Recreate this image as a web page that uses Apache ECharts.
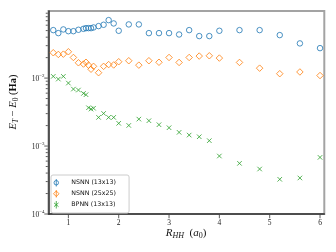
<!DOCTYPE html>
<html><head><meta charset="utf-8">
<script src="https://cdn.jsdelivr.net/npm/echarts@6/dist/echarts.min.js"></script>
<style>html,body{margin:0;padding:0;background:#fff}#c{width:336px;height:252px}</style>
</head><body><div id="c"></div>
<script>
// ---- data ----
const rHH = [0.7,0.8,0.9,1.0,1.1,1.2,1.3,1.35,1.4,1.45,1.5,1.6,1.7,1.8,1.9,2.0,2.2,2.4,2.6,2.8,3.0,3.2,3.4,3.6,3.8,4.0,4.4,4.8,5.2,5.6,6.0];
const nsnn13 = [0.0508,0.0459,0.052,0.049,0.049,0.0514,0.0531,0.0543,0.0543,0.0543,0.0556,0.0582,0.0609,0.0713,0.0637,0.0497,0.0616,0.0616,0.0459,0.0459,0.0459,0.0438,0.0508,0.0415,0.0415,0.0497,0.0508,0.0508,0.0429,0.0324,0.0276];
const nsnn25 = [0.0236,0.0223,0.0225,0.0244,0.0201,0.0168,0.0161,0.0171,0.0155,0.0135,0.0149,0.0120,0.0149,0.0158,0.0156,0.0174,0.0180,0.0155,0.0180,0.0171,0.0201,0.0170,0.0201,0.0211,0.0213,0.0197,0.0170,0.0140,0.0116,0.0123,0.0109];
const bpnn13 = [0.0106,0.00967,0.0106,0.00844,0.00689,0.00667,0.00595,0.0057,0.00366,0.0035,0.0036,0.00264,0.00302,0.00264,0.00264,0.00216,0.00201,0.00249,0.00236,0.00206,0.00186,0.00159,0.00145,0.00137,0.0012,0.000713,0.000556,0.000459,0.000324,0.000339,0.000681];
const seriesNames = ['NSNN (13x13)','NSNN (25x25)','BPNN (13x13)'];
const xTicks = [1,2,3,4,5,6];
const yTickExps = [-4,-3,-2];

// ---- style ----
const colors = ['#1f77b4','#ff7f0e','#2ca02c'];
const X_MIN = 0.605, X_MAX = 6.085, Y_MIN = 1e-4, Y_MAX = 0.0971;
const AX = '#333';
const SERIF = '"Liberation Serif", "DejaVu Serif", serif';

const yMinor = [];
for (let e = -4; e < -1; e++) for (let m = 2; m <= 9; m++) { const v = m * Math.pow(10, e); if (v <= Y_MAX) yMinor.push(v); }
const yTickData = yTickExps.map(e => [X_MIN, Math.pow(10, e), 3.5]).concat(yMinor.map(v => [X_MIN, v, 2]));
const xTickData = xTicks.map(t => [t, Y_MIN, 3.5]);

const icons = [
  'path://M5,0L5,10M8,5A3,3,0,1,1,2,5A3,3,0,1,1,8,5Z',
  'path://M5,0L5,10M5,1.3L8.7,5L5,8.7L1.3,5Z',
  'path://M5,0L5,10M2,2.5L8,7.5M8,2.5L2,7.5'
];
const symbols = ['circle', 'diamond', 'path://M0,0L10,10M10,0L0,10'];
const sizes = [5.5, 6.5, 4.5];

const scatter = [nsnn13, nsnn25, bpnn13].map((arr, i) => ({
  type: 'scatter', name: seriesNames[i],
  data: rHH.map((x, j) => [x, arr[j]]),
  symbol: symbols[i], symbolSize: sizes[i],
  itemStyle: { color: 'rgba(255,255,255,0)', borderColor: colors[i], borderWidth: 1 },
  emphasis: { disabled: true }, z: 3
}));

const chart = echarts.init(document.getElementById('c'), null, { renderer: 'canvas' });
chart.setOption({
  animation: false,
  backgroundColor: '#fff',
  grid: { left: 48.5, right: 11.7, top: 11, bottom: 38, show: true, borderColor: '#a3a3a3', borderWidth: 2, backgroundColor: 'transparent' },
  xAxis: {
    type: 'value', min: X_MIN, max: X_MAX,
    axisLine: { show: true, onZero: false, lineStyle: { color: AX, width: 1.5 } },
    axisTick: { show: false }, splitLine: { show: false },
    axisLabel: {
      margin: 5, color: '#222', fontFamily: SERIF, fontSize: 7.5,
      formatter: v => xTicks.some(t => Math.abs(t - v) < 1e-9) ? String(Math.round(v)) : ''
    }
  },
  yAxis: {
    type: 'log', logBase: 10, min: Y_MIN, max: Y_MAX,
    axisLine: { show: true, lineStyle: { color: AX, width: 1.5 } },
    axisTick: { show: false }, splitLine: { show: false },
    axisLabel: {
      margin: 4, color: '#222',
      formatter: v => {
        const e = Math.log10(v), r = Math.round(e);
        if (Math.abs(e - r) > 1e-6 || !yTickExps.includes(r)) return '';
        return '{b|10}{s|' + (r < 0 ? '\u2212' : '') + Math.abs(r) + '}';
      },
      rich: {
        b: { fontFamily: SERIF, fontSize: 7.5, color: '#222', verticalAlign: 'bottom', lineHeight: 10 },
        s: { fontFamily: SERIF, fontSize: 5, color: '#222', verticalAlign: 'top', lineHeight: 6 }
      }
    }
  },
  legend: {
    orient: 'vertical', left: 51, top: 175,
    padding: [3.5, 13, 4, 2], itemGap: 2.5, itemWidth: 16, itemHeight: 7.5,
    backgroundColor: 'rgba(255,255,255,0.8)', borderColor: '#cccccc', borderWidth: 1, borderRadius: 2,
    textStyle: { fontFamily: '"DejaVu Sans", sans-serif', fontSize: 6.3, color: '#111', lineHeight: 8, padding: [0, 0, 0, 2] },
    data: seriesNames.map((n, i) => ({ name: n, icon: icons[i], itemStyle: { color: 'rgba(255,255,255,0)', borderColor: colors[i], borderWidth: 1 } }))
  },
  graphic: [
    { type: 'text', x: 13, y: 102, rotation: Math.PI / 2, silent: true,
      style: { text: '{i|E}{sb|T}{n| \u2212 }{i|E}{s0|0}{n| (}{h|Ha}{n|)}', align: 'center', verticalAlign: 'middle',
        rich: {
          i: { fontFamily: SERIF, fontStyle: 'italic', fontSize: 10.5, fill: '#111', verticalAlign: 'middle', lineHeight: 14 },
          sb: { fontFamily: SERIF, fontStyle: 'italic', fontSize: 7.5, fill: '#111', verticalAlign: 'bottom', lineHeight: 9 },
          s0: { fontFamily: SERIF, fontSize: 7.5, fill: '#111', verticalAlign: 'bottom', lineHeight: 9 },
          n: { fontFamily: SERIF, fontSize: 10.5, fill: '#111', verticalAlign: 'middle', lineHeight: 14 },
          h: { fontFamily: SERIF, fontWeight: 'bold', fontSize: 10.5, fill: '#111', verticalAlign: 'middle', lineHeight: 14 }
        } } },
    { type: 'text', x: 186, y: 233, silent: true,
      style: { text: '{i|R}{sb|HH}{n|  (}{i|a}{s0|0}{n|)}', align: 'center', verticalAlign: 'middle',
        rich: {
          i: { fontFamily: SERIF, fontStyle: 'italic', fontSize: 11, fill: '#111', verticalAlign: 'middle', lineHeight: 14 },
          sb: { fontFamily: SERIF, fontStyle: 'italic', fontSize: 8, fill: '#111', verticalAlign: 'bottom', lineHeight: 9 },
          s0: { fontFamily: SERIF, fontSize: 8, fill: '#111', verticalAlign: 'bottom', lineHeight: 9 },
          n: { fontFamily: SERIF, fontSize: 11, fill: '#111', verticalAlign: 'middle', lineHeight: 14 }
        } } }
  ],
  series: scatter.concat([
    { type: 'custom', name: 'yticks', silent: true, clip: false, z: 5, data: yTickData,
      renderItem: (p, api) => { const c = api.coord([api.value(0), api.value(1)]); const l = api.value(2);
        return { type: 'line', shape: { x1: c[0] - 0.75 - l, y1: c[1], x2: c[0] - 0.75, y2: c[1] }, style: { stroke: AX, lineWidth: 0.8 } }; } },
    { type: 'custom', name: 'xticks', silent: true, clip: false, z: 5, data: xTickData,
      renderItem: (p, api) => { const c = api.coord([api.value(0), api.value(1)]); const l = api.value(2);
        return { type: 'line', shape: { x1: c[0], y1: c[1] + 0.75, x2: c[0], y2: c[1] + 0.75 + l }, style: { stroke: AX, lineWidth: 0.8 } }; } }
  ])
});
</script></body></html>
